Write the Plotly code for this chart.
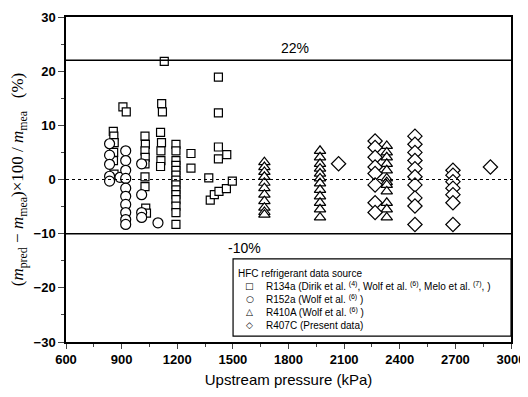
import plotly.graph_objects as go

# R134a (squares)
r134a_x = [855, 858, 860, 857, 856, 859,
           907, 925, 1116, 1120, 1130,
           1026, 1028, 1026, 1027, 1026, 1026, 1026, 1030, 1034,
           1110, 1115, 1112, 1112, 1110,
           1193, 1193, 1193, 1193, 1193, 1193, 1193, 1193, 1193, 1193, 1193, 1193, 1193, 1193,
           1274, 1274, 1370,
           1422, 1422, 1422, 1422, 1467,
           1378, 1400, 1425, 1465, 1497]
r134a_y = [8.9, 8.0, 6.8, 5.0, 3.5, 1.0,
           13.4, 12.5, 14.0, 12.5, 21.8,
           8.0, 6.5, 5.3, 4.1, 2.9, 0.5, -1.3, -5.3, -6.2,
           8.7, 6.8, 5.3, 3.5, 2.4,
           6.5, 5.3, 3.5, 2.6, 1.7, 0.8, -0.1, -1.0, -1.9, -2.8, -3.7, -4.9, -6.1, -8.3,
           4.8, 2.1, 0.3,
           18.9, 12.3, 6.0, 3.8, 4.6,
           -3.8, -2.8, -2.2, -1.7, -0.3]

# R152a (circles)
r152a_x = [835, 835, 835, 835, 835, 891,
           922, 922, 922, 922, 922, 922, 922, 922, 922, 922,
           1008, 1008, 1008, 1008, 1096]
r152a_y = [6.6, 4.5, 2.8, 0.6, -0.3, 0.4,
           5.3, 3.5, 1.7, 0.2, -1.6, -3.1, -4.6, -6.1, -7.4, -8.3,
           2.9, -2.8, -6.1, -7.0, -8.0]

# R410A (triangles)
r410a_x = [1670] * 11 + [1970] * 12 + [2330] * 12
r410a_y = [3.2, 2.3, 1.4, 0.5, -0.6, -1.6, -2.8, -4.0, -5.2, -6.0, -6.5,
           5.3, 4.1, 2.9, 2.0, 1.1, 0.2, -0.7, -1.9, -3.1, -4.3, -5.5, -7.0,
           6.2, 5.0, 4.1, 2.9, 1.7, 0.2, -0.5, -1.0, -2.2, -4.3, -5.5, -7.0]

# R407C (diamonds)
r407c_x = [2070] + [2267] * 8 + [2482] * 10 + [2687] * 7 + [2889]
r407c_y = [2.9,
           7.1, 5.9, 4.1, 2.3, 1.1, -1.0, -4.3, -6.1,
           8.0, 6.5, 5.0, 3.5, 2.0, 0.5, -1.0, -3.4, -4.9, -8.3,
           1.7, 0.8, -0.4, -1.6, -2.8, -4.3, -8.3,
           2.3]

x_ticks = [600, 900, 1200, 1500, 1800, 2100, 2400, 2700, 3000]
y_ticks = [-30, -20, -10, 0, 10, 20, 30]
upper_limit = 22
lower_limit = -10

legend_title = "HFC refrigerant data source"
names = ["R134a (Dirik et al. <sup>(4)</sup>, Wolf et al. <sup>(6)</sup>, Melo et al. <sup>(7)</sup>, )",
         "R152a (Wolf et al. <sup>(6)</sup> )",
         "R410A (Wolf et al. <sup>(6)</sup> )",
         "R407C (Present data)"]
legend_glyphs = ["□", "○", "△", "◇"]

fig = go.Figure()
series = [(r134a_x, r134a_y, "square", 8), (r152a_x, r152a_y, "circle", 10),
          (r410a_x, r410a_y, "triangle-up", 10), (r407c_x, r407c_y, "diamond", 11)]
for (xs, ys, sym, sz), nm in zip(series, names):
    fig.add_trace(go.Scatter(x=xs, y=ys, mode="markers", name=nm, showlegend=False,
                             marker=dict(symbol=sym, size=sz, color="white",
                                         line=dict(color="black", width=1.2))))

fig.add_hline(y=upper_limit, line=dict(color="black", width=1.5))
fig.add_hline(y=lower_limit, line=dict(color="black", width=1.5))
fig.add_hline(y=0, line=dict(color="black", width=1.2, dash="dot"))

fig.add_annotation(x=1835, y=24.3, text="22%", showarrow=False,
                   font=dict(family="Liberation Sans", size=14, color="black"))
fig.add_annotation(x=1565, y=-12.6, text="-10%", showarrow=False,
                   font=dict(family="Liberation Sans", size=14, color="black"))

# legend box (drawn manually)
fig.add_shape(type="rect", xref="x", yref="y", x0=1501, x1=3000, y0=-28.9, y1=-14.64,
              line=dict(color="black", width=1.2), fillcolor="white", layer="above")
lf = dict(family="Liberation Sans", size=10, color="black")
fig.add_annotation(x=1515, y=-17.3, xanchor="left", text=legend_title, showarrow=False, font=lf)
entry_y = [-19.6, -22.1, -24.5, -26.9]
for g, nm, yy in zip(legend_glyphs, names, entry_y):
    fig.add_annotation(x=1592, y=yy, text=g, showarrow=False,
                       font=dict(family="DejaVu Sans", size=9, color="black"))
    fig.add_annotation(x=1668, y=yy, xanchor="left", text=nm, showarrow=False, font=lf)

# page body has an 8px default margin, so the figure is sized to fit the window
fig.update_layout(
    width=520, height=381,
    margin=dict(l=58, r=17, t=2, b=47),
    paper_bgcolor="white", plot_bgcolor="white",
    showlegend=False,
    font=dict(family="Liberation Sans", color="black"),
)
fig.update_xaxes(range=[600, 3000], tickvals=x_ticks, ticks="outside", ticklen=5,
                 tickwidth=1, showgrid=False, zeroline=False, showline=True,
                 linecolor="black", linewidth=1.5, mirror=True, ticklabeloverflow="allow",
                 tickfont=dict(family="Liberation Sans", size=13, weight="bold"),
                 minor=dict(tickvals=[750, 1050, 1350, 1650, 1950, 2250, 2550, 2850],
                            ticks="outside", ticklen=3),
                 title=dict(text="Upstream pressure (kPa)", standoff=8,
                            font=dict(family="Liberation Sans", size=15)))
fig.update_yaxes(range=[-30, 30], tickvals=y_ticks, ticks="outside", ticklen=6,
                 tickwidth=1, showgrid=False, zeroline=False, showline=True,
                 linecolor="black", linewidth=1.5, mirror=True, ticklabeloverflow="allow",
                 tickfont=dict(family="Liberation Sans", size=13, weight="bold"),
                 minor=dict(tickvals=[-25, -15, -5, 5, 15, 25], ticks="outside", ticklen=3),
                 title=dict(text="(<i>m</i><sub>pred</sub> − <i>m</i><sub>mea</sub>)×100 / <i>m</i><sub>mea</sub>   (%)",
                            standoff=10,
                            font=dict(family="Liberation Serif", size=17)))

fig.write_html("out.html")
